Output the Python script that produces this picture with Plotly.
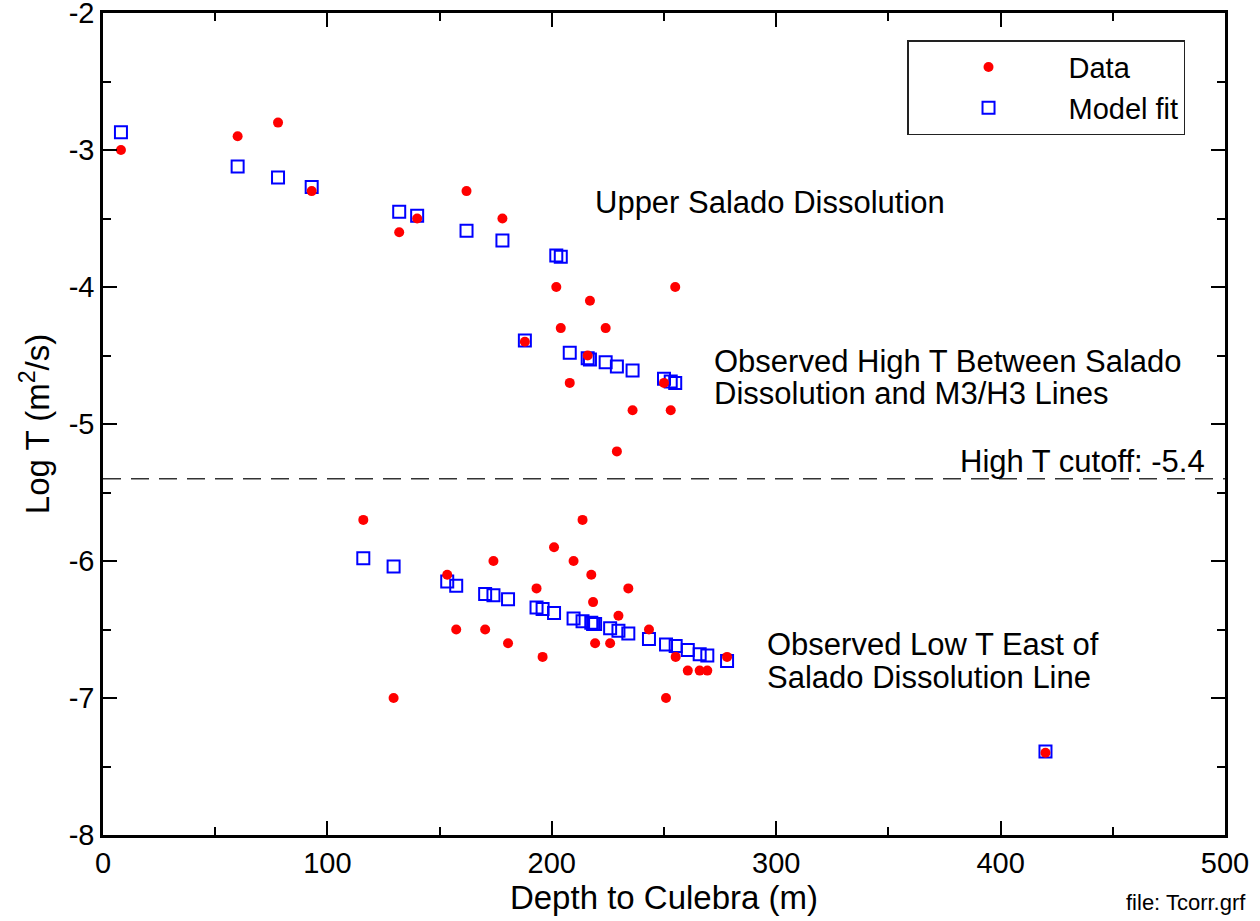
import plotly.graph_objects as go

# Depth to Culebra (m), shared by data and model
depth = [8, 60, 78, 93, 132, 140, 162, 178, 188, 202, 204, 208, 216, 217, 224, 229, 236, 250, 253, 255,
         116, 129.5, 153.4, 157.4, 170.3, 174, 180.5, 193.2, 195.9, 201, 209.7, 213.7, 217.6, 218.4, 219.3,
         226, 229.7, 234.1, 243.3, 250.9, 255.2, 260.6, 265.9, 269.3, 278.1, 420]

# Observed log T (m2/s)
data_logT = [-3.0, -2.9, -2.8, -3.3, -3.6, -3.5, -3.3, -3.5, -4.4, -4.0, -4.3, -4.7, -4.5, -4.1, -4.3, -5.2, -4.9, -4.7, -4.9, -4.0,
             -5.7, -7.0, -6.1, -6.5, -6.5, -6.0, -6.6, -6.2, -6.7, -5.9, -6.0, -5.7, -6.1, -6.3, -6.6,
             -6.6, -6.4, -6.2, -6.5, -7.0, -6.7, -6.8, -6.8, -6.8, -6.7, -7.4]

# Model fit log T (m2/s)
model_logT = [-2.87, -3.12, -3.2, -3.27, -3.45, -3.48, -3.59, -3.66, -4.39, -3.77, -3.78, -4.48, -4.52, -4.53, -4.55, -4.58, -4.61, -4.67, -4.69, -4.70,
              -5.98, -6.04, -6.15, -6.18, -6.24, -6.25, -6.28, -6.34, -6.35, -6.38, -6.42, -6.44, -6.45, -6.46, -6.46,
              -6.49, -6.51, -6.53, -6.57, -6.61, -6.62, -6.65, -6.68, -6.69, -6.73, -7.39]

cutoff = -5.4

FONT = "Liberation Sans, Arial, sans-serif"

fig = go.Figure()
fig.add_trace(go.Scatter(
    x=depth, y=model_logT, mode="markers", name="Model fit", legendrank=2,
    marker=dict(symbol="square-open", size=12, color="#0000ff", line=dict(width=2, color="#0000ff")),
))
fig.add_trace(go.Scatter(
    x=depth, y=data_logT, mode="markers", name="Data", legendrank=1,
    marker=dict(symbol="circle", size=10, color="#ff0000", line=dict(width=0)),
))

fig.add_shape(type="line", xref="paper", yref="y", x0=0, x1=1, y0=cutoff, y1=cutoff,
              line=dict(color="#333333", width=1.5, dash="18px,10px"))

ann_font = dict(family=FONT, size=31, color="black")
anns = [
    ("Upper Salado Dissolution", 218.5, -3.385, "left"),
    ("Observed High T Between Salado", 271.5, -4.545, "left"),
    ("Dissolution and M3/H3 Lines", 271.5, -4.78, "left"),
    ("High T cutoff: -5.4", 492, -5.275, "right"),
    ("Observed Low T East of", 295.2, -6.613, "left"),
    ("Salado Dissolution Line", 295.2, -6.85, "left"),
]
for text, x, y, xa in anns:
    fig.add_annotation(text=text, x=x, y=y, xref="x", yref="y", xanchor=xa, yanchor="middle",
                       showarrow=False, font=ann_font)

fig.add_annotation(text="file: Tcorr.grf", xref="paper", yref="paper", x=1.0205, y=-0.0827,
                   xanchor="right", yanchor="middle", showarrow=False,
                   font=dict(family=FONT, size=22, color="black"))

axis_common = dict(
    showgrid=False, zeroline=False, showline=True, linecolor="black", linewidth=2.5,
    mirror="allticks", ticks="inside", ticklen=14, tickwidth=2, tickcolor="black",
    tickfont=dict(family=FONT, size=29, color="black"), ticklabeloverflow="allow",
    automargin=False,
    minor=dict(ticks="inside", ticklen=8, tickwidth=2, tickcolor="black"),
)

fig.update_xaxes(range=[0, 500], tickvals=[0, 100, 200, 300, 400, 500], ticktext=["0", "100", "200", "300", "400", "500"],
                 minor_dtick=50, title=dict(text="Depth to Culebra (m)", font=dict(family=FONT, size=33, color="black"), standoff=4),
                 **axis_common)
fig.update_yaxes(range=[-8, -2], tickvals=[-8, -7, -6, -5, -4, -3, -2], ticktext=["-8", "-7", "-6", "-5", "-4", "-3", "-2"],
                 minor_dtick=0.5, title=dict(text="Log T (m<sup>2</sup>/s)", font=dict(family=FONT, size=33, color="black"), standoff=10),
                 **axis_common)

fig.update_layout(
    width=1260, height=921,
    margin=dict(l=103, r=35, t=13, b=86, autoexpand=False),
    plot_bgcolor="white", paper_bgcolor="white",
    font=dict(family=FONT, color="black"),
    showlegend=True,
    legend=dict(x=0.7166, y=0.967, xanchor="left", yanchor="top", bgcolor="white",
                bordercolor="#222222", borderwidth=1.5, itemwidth=150,
                entrywidth=165, entrywidthmode="pixels",
                font=dict(family=FONT, size=29, color="black"), tracegroupgap=0),
)

fig.write_html("out.html")
